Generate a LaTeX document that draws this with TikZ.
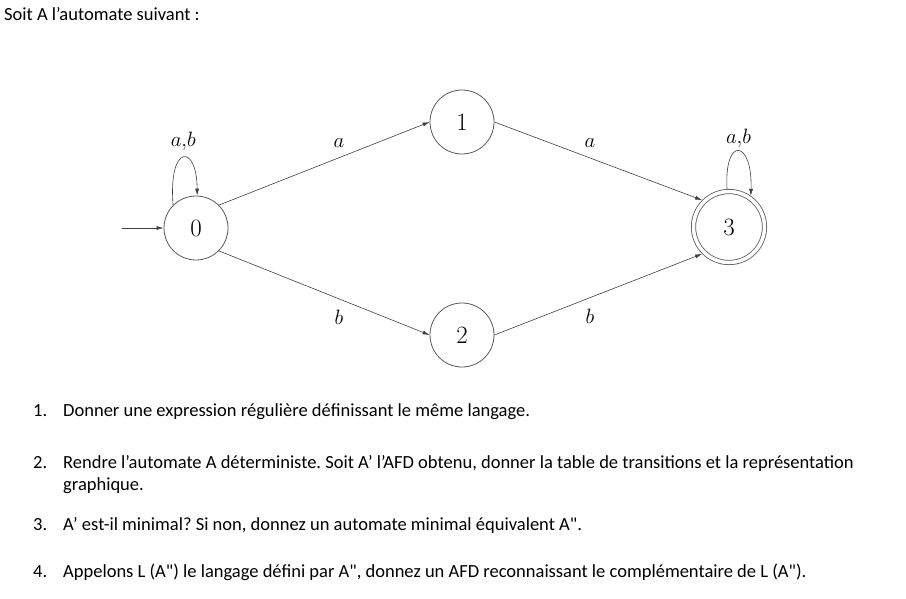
\documentclass[tikz,border=0pt]{standalone}
\usepackage[no-math]{fontspec}
\setmainfont{Carlito}[Ligatures=TeXOff]
\usetikzlibrary{positioning, arrows.meta}
\frenchspacing

\begin{document}
\begin{tikzpicture}[x=1pt, y=-1pt, >={Latex[length=7pt,width=4pt]},
	state/.style={draw=black!65, circle, line width=0.8pt, minimum size=64pt, inner sep=0pt, font=\fontsize{24}{24}\selectfont},
	accept/.style={state, double, double distance=3.5pt, minimum size=71pt, outer sep=2.5pt},
	edge/.style={->, draw=black!75, line width=0.6pt},
	lbl/.style={inner sep=1pt, font=\fontsize{21}{21}\selectfont},
	txt/.style={anchor=base west, inner sep=0pt, font=\fontsize{18.5}{22}\selectfont}]
	
	\useasboundingbox (0,0) rectangle (906,598);
	
	% Intro text
	\node [txt] (intro) at (4,20) {Soit A l’automate suivant :};
	
	% States
	\node [state] (s0) at (196,228) {$0$};
	\node [state] (s1) at (462,122) {$1$};
	\node [state] (s2) at (462,335) {$2$};
	\node [accept] (s3) at (729,227) {$3$};
	\coordinate (init) at (122,228);
	
	% Transitions
	\draw[edge] (init) -- (s0);
	\draw[edge] (s0.45) -- (s1.west) node[lbl, pos=0.57, yshift=15pt] {$a$};
	\draw[edge] (s1.east) -- (s3.135) node[lbl, pos=0.46, yshift=15pt] {$a$};
	\draw[edge] (s0.-45) -- (s2.west) node[lbl, pos=0.57, yshift=-18pt] {$b$};
	\draw[edge] (s2.east) -- (s3.-135) node[lbl, pos=0.46, yshift=-19pt] {$b$};
	
	% Loops
	\draw[edge] (s0.135) .. controls +(-5,-62) and +(0,-52) .. (s0.88) node[lbl, pos=0.5, yshift=16pt] {$a{,}b$};
	\draw[edge] (s3.93) .. controls +(-3,-54) and +(2,-56) .. (s3.55) node[lbl, pos=0.5, yshift=13pt] {$a{,}b$};
	
	% Questions
	\node [txt] (n1) at (33,416) {1.};
	\node [txt] (q1) at (63,416) {Donner une expression régulière définissant le même langage.};
	\node [txt] (n2) at (33,468) {2.};
	\node [txt] (q2) at (63,468) {Rendre l’automate A déterministe. Soit A’ l’AFD obtenu, donner la table de transitions et la représentation};
	\node [txt] (q2b) at (63,490) {graphique.};
	\node [txt] (n3) at (33,530) {3.};
	\node [txt] (q3) at (63,530) {A’ est-il minimal? Si non, donnez un automate minimal équivalent A".};
	\node [txt] (n4) at (33,577) {4.};
	\node [txt] (q4) at (63,577) {Appelons L (A") le langage défini par A", donnez un AFD reconnaissant le complémentaire de L (A").};
	
\end{tikzpicture}
\end{document}
